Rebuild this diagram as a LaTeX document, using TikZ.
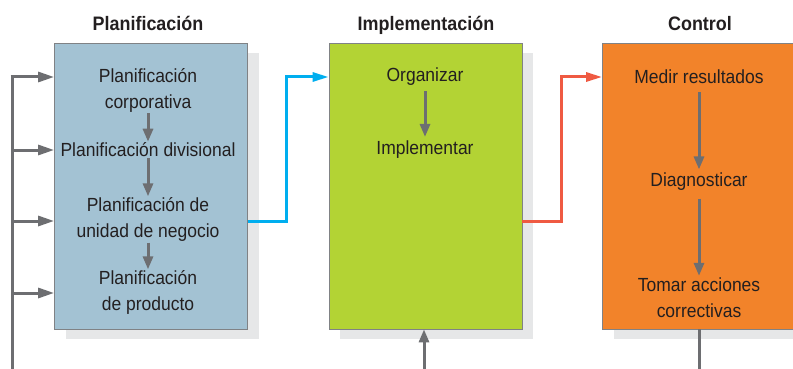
\documentclass[tikz,border=0pt]{standalone}
\usepackage{fontspec}
\setmainfont{Liberation Sans}[FakeStretch=0.92]
\usetikzlibrary{arrows.meta,calc}
\definecolor{boxblue}{HTML}{A3C2D3}
\definecolor{boxgreen}{HTML}{B3D334}
\definecolor{boxorange}{HTML}{F2832A}
\definecolor{shadowgray}{HTML}{E6E7E8}
\definecolor{bordergray}{HTML}{808285}
\definecolor{arrowgray}{HTML}{6D6E71}
\definecolor{lineblue}{HTML}{00AEEF}
\definecolor{linered}{HTML}{EF5A42}
\definecolor{txt}{HTML}{231F20}
\tikzset{
  panel/.style={draw=bordergray, line width=0.8pt, minimum width=193pt, minimum height=286pt, inner sep=0pt},
  shade/.style={fill=shadowgray, draw=none, minimum width=193pt, minimum height=286pt, inner sep=0pt},
  lbl/.style={text=txt, align=center, font=\fontsize{19}{26}\selectfont, inner sep=1pt},
  ttl/.style={text=txt, font=\fontsize{19.5}{21}\selectfont\bfseries, inner sep=0pt, anchor=base},
  garrow/.style={draw=arrowgray, line width=3pt, -{Triangle[length=13pt,width=10pt]}},
  gline/.style={draw=arrowgray, line width=3pt},
  sidearrow/.style={draw=arrowgray, line width=3pt, -{Triangle[length=16pt,width=10pt]}},
  barrow/.style={draw=lineblue, line width=3pt, -{Triangle[length=16pt,width=9pt]}},
  rarrow/.style={draw=linered, line width=3pt, -{Triangle[length=16pt,width=9pt]}},
}
\begin{document}
\begin{tikzpicture}[x=1pt,y=-1pt]
\useasboundingbox (0,0) rectangle (793,369);
\clip (0,0) rectangle (793,369);
% shadows
\node[shade] (s1) at (162,196) {};
\node[shade] (s2) at (436,196) {};
\node[shade] (s3) at (710,196) {};
% panels
\node[panel, fill=boxblue] (b1) at (151,186) {};
\node[panel, fill=boxgreen] (b2) at (425.5,186) {};
\node[panel, fill=boxorange] (b3) at (699,186) {};
% titles
\node[ttl] (t1) at (148,31) {Planificación};
\node[ttl] (t2) at (426,31) {Implementación};
\node[ttl] (t3) at (700,31) {Control};
% box 1 texts
\node[lbl] (pc) at (148,90) {Planificación\\corporativa};
\node[lbl] (pd) at (148,150) {Planificación divisional};
\node[lbl] (pu) at (148,219.5) {Planificación de\\unidad de negocio};
\node[lbl] (pp) at (148,292.5) {Planificación\\de producto};
\draw[garrow] (pc.south) -- (pd.north);
\draw[garrow] (pd.south) -- (pu.north);
\draw[garrow] (pu.south) -- (pp.north);
% box 2 texts
\node[lbl] (org) at (425,77) {Organizar};
\node[lbl] (imp) at (425,150) {Implementar};
\draw[garrow] ($(org.south)+(0,4)$) -- ($(imp.north)+(0,-3)$);
% box 3 texts
\node[lbl] (med) at (699,77) {Medir resultados};
\node[lbl] (dia) at (699,181.5) {Diagnosticar};
\node[lbl] (tom) at (699,298) {Tomar acciones\\correctivas};
\draw[garrow] ($(med.south)+(0,7)$) -- ($(dia.north)+(0,-2)$);
\draw[garrow] ($(dia.south)+(0,7)$) -- ($(tom.north)+(0,-1)$);
% left feedback line
\coordinate (lbot) at (12,369);
\coordinate (a1) at (12,77);
\coordinate (a2) at (12,150);
\coordinate (a3) at (12,221);
\coordinate (a4) at (12,293);
\draw[gline] (lbot) -- (a1);
\draw[sidearrow] ([xshift=-1.5pt]a1) -- (b1.west |- a1);
\draw[sidearrow] (a2) -- (b1.west |- a2);
\draw[sidearrow] (a3) -- (b1.west |- a3);
\draw[sidearrow] (a4) -- (b1.west |- a4);
% blue and red connectors
\coordinate (bx) at (286,0);
\coordinate (rx) at (561,0);
\draw[barrow] (b1.east |- a3) -- (bx |- a3) -- (bx |- a1) -- (b2.west |- a1);
\draw[rarrow] (b2.east |- a3) -- (rx |- a3) -- (rx |- a1) -- (b3.west |- a1);
% bottom connectors
\coordinate (in2) at (424,369);
\draw[garrow] (in2) -- (in2 |- b2.south);
\coordinate (out3) at (699,369);
\draw[gline] (out3 |- b3.south) -- (out3);
\end{tikzpicture}
\end{document}
